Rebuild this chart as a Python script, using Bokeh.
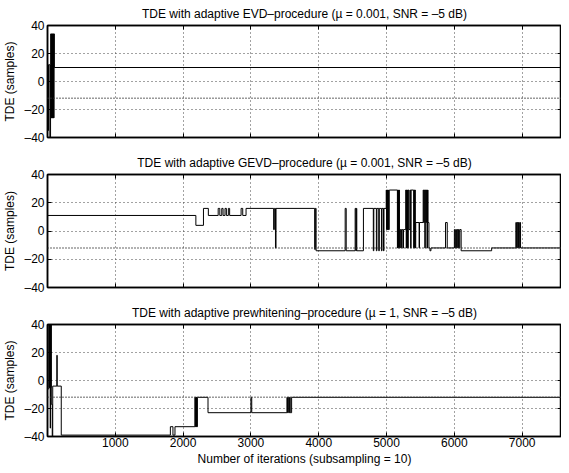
from bokeh.plotting import figure
from bokeh.layouts import column
from bokeh.models import Range1d, FixedTicker, LinearAxis, Span
from bokeh.embed import file_html
from bokeh.resources import INLINE

# ---------------- data (iteration where the estimate changes, new TDE value) ----------------
evd_iter = [0, 15, 35, 45, 48, 52, 56, 60, 64, 68, 72, 76, 80, 84, 88, 92, 96, 100]
evd_tde = [-35, 12, -40, 12, 34, -26, 34, -26, 34, -26, 34, -26, 34, -26, 34, -26, 34, 10]

gevd_iter = [0, 2188, 2300, 2372, 2517, 2541, 2570, 2589, 2618, 2638, 2667, 2686, 2855, 2879,
             2928, 3335, 3345, 3362, 3370, 3940, 3950, 3961, 4390, 4405, 4537, 4548, 4554,
             4561, 4659, 4805, 4812, 4850, 4858, 4885, 4893, 4925, 4933, 4955, 4962, 4995,
             5000, 5005, 5010, 5015, 5020, 5025, 5030, 5040, 5160, 5165, 5170, 5175, 5180,
             5185, 5190, 5200, 5210, 5220, 5240, 5250, 5283, 5290, 5296, 5302, 5308, 5314,
             5320, 5330, 5346, 5355, 5362, 5400, 5405, 5412, 5418, 5424, 5430, 5480, 5486,
             5540, 5548, 5556, 5564, 5572, 5580, 5588, 5596, 5604, 5612, 5625, 5640, 5655,
             5870, 5895, 6000, 6010, 6020, 6030, 6040, 6050, 6060, 6070, 6080, 6100, 6550,
             6907, 6915, 6925, 6935, 6945, 6955, 6965, 6976]
gevd_tde = [11, 4, 16, 11, 16, 11, 16, 11, 16, 11, 16, 11, 16, 11,
            16, 1, 16, -12, 16, -13, 16, -14, 16, -14, 16, -14, 16,
            -14, 16, -14, 16, -14, 16, -14, 16, -14, 16, -14, 16, 29,
            1, 29, 1, 29, 1, 29, 1, 29, -12, 29, -12, 29, -12,
            29, -12, 1, -12, 1, -12, 1, 29, -12, 29, -12, 29, -12,
            29, 1, 29, -12, 29, -12, 29, -12, 29, -12, 6, -12, 6,
            29, 6, 29, -12, 29, 6, 29, -12, 29, 6, -12, -14, -12,
            6, -12, 1, -12, 1, -12, 1, -12, 1, -12, 1, -14, -12,
            6, -12, 6, -12, 6, -12, 6, -12]

pw_iter = [0, 20, 24, 28, 32, 36, 40, 44, 48, 52, 56, 70, 77, 138, 143, 203, 1812, 1850,
           1880, 2174, 2180, 2186, 2192, 2198, 2204, 2210, 2367, 3000, 3012, 3531, 3540,
           3550, 3560, 3570, 3580, 3600]
pw_tde = [-6, 40, -5, 40, -5, 40, -34, 40, -5, 40, -17, -40, -4, 18, -4, -39, -33, -39,
          -33, -12, -33, -12, -33, -12, -33, -12, -23, -12, -23, -12, -23,
          -12, -23, -12, -23, -12]

true_delay = -12
x_max = 7580
x_ticks = [1000, 2000, 3000, 4000, 5000, 6000, 7000]
y_ticks = [-40, -20, 0, 20, 40]
y_tick_labels = {-40: "\u201340", -20: "\u201320", 0: "0", 20: "20", 40: "40"}

titles = [
    "TDE with adaptive EVD\u2013procedure (\u00b5 = 0.001, SNR = \u20135 dB)",
    "TDE with adaptive GEVD\u2013procedure (\u00b5 = 0.001, SNR = \u20135 dB)",
    "TDE with adaptive prewhitening\u2013procedure (\u00b5 = 1, SNR = \u20135 dB)",
]
y_label = "TDE (samples)"
x_label = "Number of iterations (subsampling = 10)"

FONT = "Liberation Sans"
FS = "12px"


def hidden_axis(ticks):
    return LinearAxis(ticker=FixedTicker(ticks=ticks), major_tick_in=4, major_tick_out=0,
                      minor_tick_line_color=None, major_label_text_color=None,
                      major_label_standoff=0, axis_line_color="black", axis_line_width=1.5)


def panel(title, xs, ys, height, bottom, last):
    p = figure(width=561, height=height, x_range=Range1d(0, x_max), y_range=Range1d(-40, 40),
               output_backend="svg", toolbar_location=None, title=title,
               min_border_left=41, min_border_right=0, min_border_top=25,
               min_border_bottom=bottom, background_fill_color="white",
               border_fill_color="white")
    p.title.text_font = FONT
    p.title.text_font_size = FS
    p.title.text_font_style = "normal"
    p.title.align = "center"
    p.title.standoff = 9
    p.title.text_color = "black"
    p.outline_line_color = "black"
    p.outline_line_width = 1.5
    p.outline_line_alpha = 1

    p.xaxis.ticker = FixedTicker(ticks=x_ticks)
    p.yaxis.ticker = FixedTicker(ticks=y_ticks)
    p.yaxis.major_label_overrides = y_tick_labels
    for ax in p.xaxis + p.yaxis:
        ax.major_tick_out = 0
        ax.major_tick_in = 4
        ax.minor_tick_line_color = None
        ax.axis_line_color = "black"
        ax.axis_line_width = 1.5
        ax.major_tick_line_color = "black"
        ax.major_label_text_font = FONT
        ax.major_label_text_font_size = FS
        ax.major_label_text_color = "black"
        ax.axis_label_text_font = FONT
        ax.axis_label_text_font_size = FS
        ax.axis_label_text_font_style = "normal"
        ax.axis_label_text_color = "black"
    p.yaxis.major_label_standoff = 3
    p.yaxis.axis_label = y_label
    p.yaxis.axis_label_standoff = 4
    if last:
        p.xaxis.axis_label = x_label
        p.xaxis.major_label_standoff = 1
        p.xaxis.axis_label_standoff = 2
    else:
        p.xaxis.major_label_text_color = None
        p.xaxis.major_label_standoff = 0

    p.add_layout(hidden_axis(x_ticks), "above")
    p.add_layout(hidden_axis(y_ticks), "right")

    p.xgrid.ticker = FixedTicker(ticks=x_ticks)
    p.ygrid.ticker = FixedTicker(ticks=y_ticks)
    p.grid.grid_line_color = "#444444"
    p.grid.grid_line_dash = "1 3"
    p.grid.grid_line_width = 1

    p.add_layout(Span(location=true_delay, dimension="width", line_color="#333333",
                      line_width=1.4, line_dash="1 2"))
    p.step(x=xs + [x_max], y=ys + [ys[-1]], mode="after", line_color="black", line_width=1)
    return p


p1 = panel(titles[0], evd_iter, evd_tde, 149, 12, False)
p2 = panel(titles[1], gevd_iter, gevd_tde, 150, 12, False)
p3 = panel(titles[2], pw_iter, pw_tde, 169, 31, True)

layout = column(p1, p2, p3, spacing=0)
open("out.html", "w").write(file_html(layout, INLINE))
